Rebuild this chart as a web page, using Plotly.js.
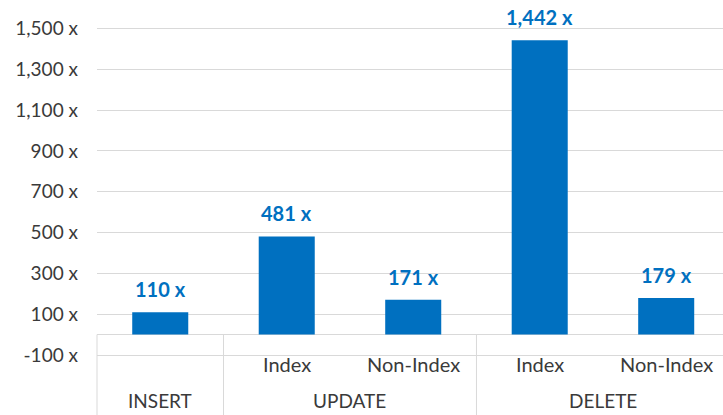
<!DOCTYPE html>
<html>
<head>
<meta charset="utf-8">
<script src="https://cdn.plot.ly/plotly-3.0.1.min.js"></script>
<style>html,body{margin:0;padding:0;background:#fff;}#chart{width:723px;height:415px;}</style>
</head>
<body>
<div id="chart"></div>
<script>
// Data
const groups = ["INSERT", "UPDATE", "UPDATE", "DELETE", "DELETE"];
const subLabels = ["", "Index", "Non-Index", "Index", "Non-Index"];
const speedups = [110, 481, 171, 1442, 179];
const yTicks = [-100, 100, 300, 500, 700, 900, 1100, 1300, 1500];
const labelSuffix = " x";

const BLUE = "#0070C0";
const GRID = "#d9d9d9";
const TXT = "#3a3a3a";
const FONT = "Lato, 'Open Sans', sans-serif";

const xRange = [-0.5, 4.449];
const yRange = [-100, 1600];

const fmt = v => v.toLocaleString("en-US") + labelSuffix;
const idx = speedups.map((_, i) => i);

const trace = {
  type: "bar",
  x: idx,
  y: speedups,
  marker: {color: BLUE},
  hoverinfo: "skip"
};

const annotations = speedups.map((v, i) => ({
  x: i, y: v, xref: "x", yref: "y",
  text: "<b>" + fmt(v) + "</b>",
  showarrow: false, yanchor: "bottom", yshift: 9,
  font: {family: FONT, size: 20, color: BLUE}
}));

// sub-category labels
subLabels.forEach((s, i) => {
  if (!s) return;
  annotations.push({
    x: i, xref: "x", y: -0.027, yref: "paper",
    text: s, showarrow: false, yanchor: "middle",
    font: {family: FONT, size: 20, color: TXT}
  });
});

// group labels and divider lines computed from the group array
const shapes = [];
const zeroFrac = (0 - yRange[0]) / (yRange[1] - yRange[0]);
let start = 0;
for (let i = 0; i <= groups.length; i++) {
  if (i === 0 || i === groups.length || groups[i] !== groups[i - 1]) {
    if (i > 0) {
      annotations.push({
        x: (start + i - 1) / 2, xref: "x", y: -0.132, yref: "paper",
        text: groups[start], showarrow: false, yanchor: "middle",
        font: {family: FONT, size: 19, color: TXT}
      });
      start = i;
    }
    const b = i - 0.5;
    const px = (b - xRange[0]) / (xRange[1] - xRange[0]);
    if (px < 0 || px > 1) continue;
    shapes.push({type: "line", xref: "paper", yref: "paper",
      x0: px, x1: px, y0: zeroFrac, y1: -0.5,
      line: {color: GRID, width: 1}});
  }
}

const layout = {
  width: 723, height: 415,
  margin: {l: 97, r: 0, t: 8, b: 60},
  paper_bgcolor: "#fff", plot_bgcolor: "#fff",
  showlegend: false,
  bargap: 0.557,
  font: {family: FONT, size: 19, color: TXT},
  xaxis: {
    range: xRange,
    tickvals: idx,
    showticklabels: false,
    showgrid: false, zeroline: false,
    showline: true, linecolor: GRID, linewidth: 1,
    ticks: ""
  },
  yaxis: {
    range: yRange,
    tickvals: yTicks,
    ticktext: yTicks.map(fmt),
    showgrid: true, gridcolor: GRID, gridwidth: 1,
    zeroline: true, zerolinecolor: GRID, zerolinewidth: 1,
    showline: false,
    ticks: "",
    ticklabelstandoff: 18,
    tickfont: {family: FONT, size: 19, color: TXT}
  },
  annotations: annotations,
  shapes: shapes
};

Plotly.newPlot("chart", [trace], layout, {displayModeBar: false, staticPlot: true});
</script>
</body>
</html>
